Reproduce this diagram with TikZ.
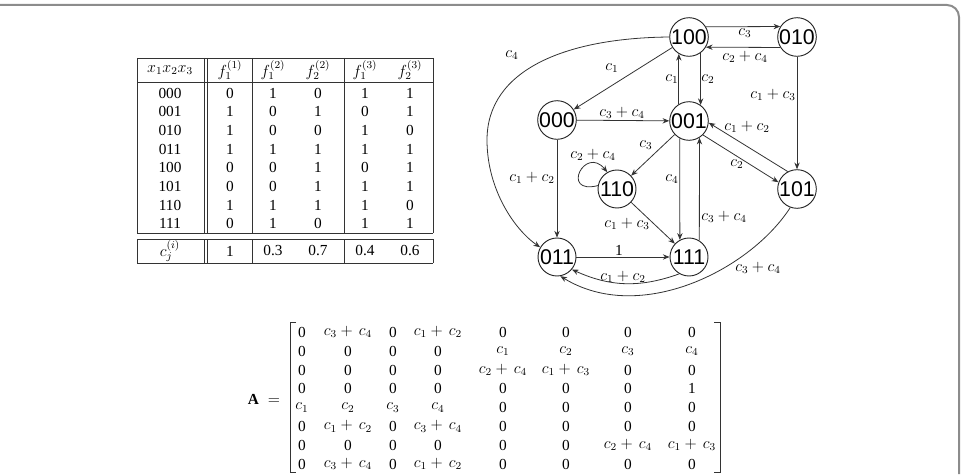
\documentclass[tikz,border=0pt]{standalone}
\usepackage{fontspec}
\setmainfont{Liberation Serif}
\newfontfamily\statefont{Liberation Sans}
\usetikzlibrary{arrows.meta}
\begin{document}
\begin{tikzpicture}[x=0.75pt,y=-0.75pt,
  every node/.style={font=\fontsize{11.5}{13}\selectfont, inner sep=1pt},
  st/.style={circle,draw=black!85,line width=0.7pt,minimum size=28.5pt,inner sep=0pt,font=\statefont\fontsize{16}{16}\selectfont},
  ed/.style={draw=black!80,line width=0.6pt,-{Stealth[length=5pt,width=4pt]}},
  tl/.style={draw=black!80,line width=0.6pt},
  lab/.style={}]
\useasboundingbox (0,0) rectangle (962,474);
\draw[black!45,line width=1.5pt,rounded corners=9pt] (0,5) -| (959,474);

% ---------------- table ----------------
\foreach \y in {58,82,233,239,263} \draw[tl] (137,\y) -- (433,\y);
\foreach \x in {137,204,207,252,344,433} {
  \draw[tl] (\x,58) -- (\x,233);
  \draw[tl] (\x,239) -- (\x,263);
}
\node (h0) at (170,70) {$x_1x_2x_3$};
\node (h1) at (230,70) {$f_1^{(1)}$};
\node (h2) at (273,70) {$f_1^{(2)}$};
\node (h3) at (318,70) {$f_2^{(2)}$};
\node (h4) at (365,70) {$f_1^{(3)}$};
\node (h5) at (410,70) {$f_2^{(3)}$};
\foreach \a/\b/\c/\d/\e/\f [count=\i from 0] in {000/0/1/0/1/1,001/1/0/1/0/1,010/1/0/0/1/0,011/1/1/1/1/1,100/0/0/1/0/1,101/0/0/1/1/1,110/1/1/1/1/0,111/0/1/0/1/1} {
  \pgfmathsetmacro\yy{93+\i*18.7}
  \node (ra\i) at (170,\yy) {\a};
  \node (rb\i) at (230,\yy) {\b};
  \node (rc\i) at (273,\yy) {\c};
  \node (rd\i) at (318,\yy) {\d};
  \node (re\i) at (365,\yy) {\e};
  \node (rf\i) at (410,\yy) {\f};
}
\node (cj0) at (170,251) {$c_j^{(i)}$};
\node (cj1) at (230,251) {1};
\node (cj2) at (273,251) {0.3};
\node (cj3) at (318,251) {0.7};
\node (cj4) at (365,251) {0.4};
\node (cj5) at (410,251) {0.6};

% ---------------- graph ----------------
\node[st] (n100) at (689,37) {100};
\node[st] (n010) at (797,37) {010};
\node[st] (n000) at (557,120) {000};
\node[st] (n001) at (689,121) {001};
\node[st] (n110) at (617,189) {110};
\node[st] (n101) at (797,189) {101};
\node[st] (n011) at (557,257) {011};
\node[st] (n111) at (689,257) {111};

\draw[ed] (n100.31.8) -- (n010.148.2);
\draw[ed] (n010.-148.2) -- (n100.-31.8);
\draw[ed] (n100.-54.6) -- (n001.54.6);
\draw[ed] (n001.121.8) -- (n100.-121.8);
\draw[ed] (n100) -- (n000);
\draw[ed] (n100.west) .. controls (565,38) and (487,70) .. (487,140) .. controls (487,190) and (515,230) .. (n011.150);
\draw[ed] (n000) -- (n001);
\draw[ed] (n000) -- (n011);
\draw[ed] (n001) -- (n110);
\draw[ed] (n110.170) .. controls (560,195) and (585,145) .. (n110.120);
\draw[ed] (n001.-118.3) -- (n111.118.3);
\draw[ed] (n111.58.2) -- (n001.-58.2);
\draw[ed] (n101.118) -- (n001.-5);
\draw[ed] (n001.-45) -- (n101.160);
\draw[ed] (n010) -- (n101);
\draw[ed] (n110) -- (n111);
\draw[ed] (n011) -- (n111);
\draw[ed] (n111.240) to[bend left=22] (n011.-40);
\draw[ed] (n101.250) .. controls (750,270) and (640,325) .. (n011.-80);

\node[lab] (l1) at (745,33) {$c_3$};
\node[lab] (l2) at (745,57) {$c_2+c_4$};
\node[lab] (l3) at (672,79) {$c_1$};
\node[lab] (l4) at (708,79) {$c_2$};
\node[lab] (l5) at (612,68) {$c_1$};
\node[lab] (l6) at (512,55) {$c_4$};
\node[lab] (l7) at (622,113) {$c_3+c_4$};
\node[lab] (l8) at (532,178) {$c_1+c_2$};
\node[lab] (l9) at (646,145) {$c_3$};
\node[lab] (l10) at (593,155) {$c_2+c_4$};
\node[lab] (l11) at (672,179) {$c_4$};
\node[lab] (l12) at (724,217) {$c_3+c_4$};
\node[lab] (l13) at (747,127) {$c_1+c_2$};
\node[lab] (l14) at (737,164) {$c_2$};
\node[lab] (l15) at (773,95) {$c_1+c_3$};
\node[lab] (l16) at (627,224) {$c_1+c_3$};
\node[lab] (l17) at (619,250) {1};
\node[lab] (l18) at (623,277) {$c_1+c_2$};
\node[lab] (l19) at (758,268) {$c_3+c_4$};

% ---------------- matrix ----------------
\node (A) at (264,399) {$\mathbf{A}\;=$};
\draw[tl] (296,322) -- (290,322) -- (290,472) -- (296,472);
\draw[tl] (714,322) -- (720,322) -- (720,472) -- (714,472);
\def\cx{{302,348,393,438,503,566,628,692}}
\def\ry{{332,351,370,388.5,407.5,426.5,445,464}}
\newcommand\ment[3]{\pgfmathsetmacro\mx{\cx[#2]}\pgfmathsetmacro\my{\ry[#1]}\node (m#1#2) at (\mx,\my) {#3};}
\foreach \r/\list in {0/{0,$c_3+\,c_4$,0,$c_1+\,c_2$,0,0,0,0},
                     1/{0,0,0,0,$c_1$,$c_2$,$c_3$,$c_4$},
                     2/{0,0,0,0,$c_2+\,c_4$,$c_1+\,c_3$,0,0},
                     3/{0,0,0,0,0,0,0,1},
                     4/{$c_1$,$c_2$,$c_3$,$c_4$,0,0,0,0},
                     5/{0,$c_1+\,c_2$,0,$c_3+\,c_4$,0,0,0,0},
                     6/{0,0,0,0,0,0,$c_2+\,c_4$,$c_1+\,c_3$},
                     7/{0,$c_3+\,c_4$,0,$c_1+\,c_2$,0,0,0,0}} {
  \foreach \e [count=\c from 0] in \list { \ment{\r}{\c}{\e} }
}
\end{tikzpicture}
\end{document}
